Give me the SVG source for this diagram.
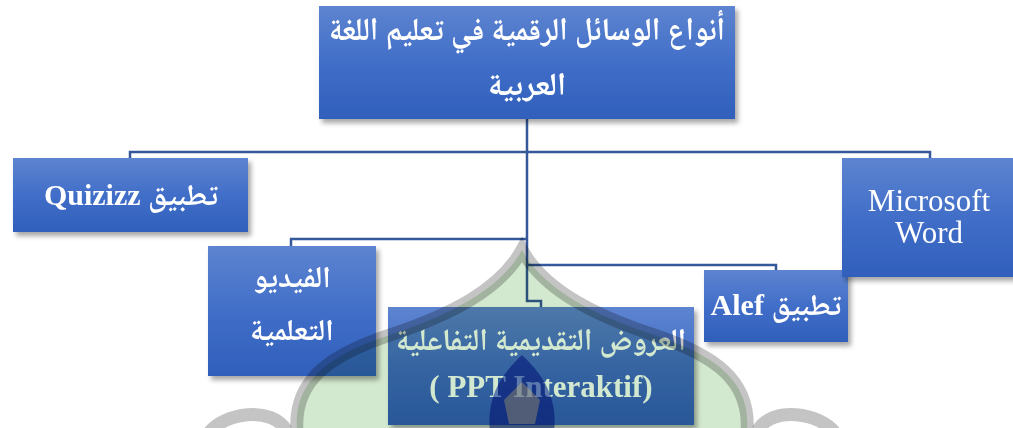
<svg xmlns="http://www.w3.org/2000/svg" width="1013" height="428" viewBox="0 0 1013 428">
<defs>
<linearGradient id="boxGrad" x1="0" y1="0" x2="0" y2="1">
<stop offset="0" stop-color="#5d84d0"/>
<stop offset="0.5" stop-color="#416ec8"/>
<stop offset="1" stop-color="#2f5fbb"/>
</linearGradient>
<filter id="shadow" x="-10%" y="-10%" width="125%" height="130%">
<feDropShadow dx="3" dy="4" stdDeviation="2.5" flood-color="#000" flood-opacity="0.35"/>
</filter>
</defs>
<style>
.box{fill:url(#boxGrad);filter:url(#shadow);}
.conn{fill:none;stroke:#34589a;stroke-width:2.5;}
.t{fill:#ffffff;font-family:'Liberation Serif','Noto Naskh Arabic','DejaVu Sans',serif;font-weight:bold;text-anchor:middle;}
.ar{direction:rtl;}
.reg{font-weight:normal;}
.wm{mix-blend-mode:multiply;}
.wm-band{fill:none;stroke:#c4c4c4;stroke-width:13;mix-blend-mode:multiply;}
</style>
<rect width="1013" height="428" fill="#ffffff"/>
<g id="connectors">
<path class="conn" d="M527 119 V301 H541 V307"/>
<path class="conn" d="M527 152 H130 V158"/>
<path class="conn" d="M527 152 H930 V158"/>
<path class="conn" d="M527 239 H291 V246"/>
<path class="conn" d="M527 265 H776 V270"/>
</g>
<g id="node-root">
<rect class="box" x="319" y="6" width="416" height="113"/>
<text class="t ar" x="527" y="40" font-size="32" textLength="396" lengthAdjust="spacingAndGlyphs">أنواع الوسائل الرقمية في تعليم اللغة</text>
<text class="t ar" x="527" y="95" font-size="32">العربية</text>
</g>
<g id="node-quizizz">
<rect class="box" x="13" y="158" width="235" height="74"/>
<text class="t ar" x="131" y="205" font-size="30">تطبيق Quizizz</text>
</g>
<g id="node-video">
<rect class="box" x="208" y="246" width="168" height="130"/>
<text class="t ar" x="292" y="287" font-size="30">الفيديو</text>
<text class="t ar" x="292" y="340" font-size="30">التعلمية</text>
</g>
<g id="node-ppt">
<rect class="box" x="388" y="307" width="306" height="118"/>
<text class="t ar" x="541" y="350" font-size="31" textLength="290" lengthAdjust="spacingAndGlyphs">العروض التقديمية التفاعلية</text>
<text class="t" x="541" y="397" font-size="31">( PPT Interaktif)</text>
</g>
<g id="node-alef">
<rect class="box" x="704" y="270" width="144" height="72"/>
<text class="t ar" x="776" y="315" font-size="30">تطبيق Alef</text>
</g>
<g id="node-word">
<rect class="box" x="842" y="158" width="176" height="119"/>
<text class="t reg" x="929" y="211" font-size="31">Microsoft</text>
<text class="t reg" x="929" y="243" font-size="31">Word</text>
</g>
<g id="watermark">
<path class="wm" d="M297 430 C 293 380, 330 355, 390 335 C 450 315, 500 290, 522 250 C 544 290, 594 315, 654 335 C 714 355, 751 380, 747 430 Z" fill="#d3e9cf"/>
<path class="wm-band" d="M297 432 C 293 380, 330 355, 390 335 C 450 315, 500 290, 522 250 C 544 290, 594 315, 654 335 C 714 355, 751 380, 747 432"/>
<path class="wm-band" d="M208 434 C 224 412, 272 406, 286 430"/>
<path class="wm-band" d="M836 434 C 820 412, 772 406, 758 430"/>
<path class="wm" d="M522 355 C 542 374, 558 396, 554 432 L 490 432 C 486 396, 502 374, 522 355 Z" fill="#6f86d6"/>
<path d="M522 382 L 540 400 L 535 424 L 509 424 L 504 400 Z" fill="#e0c860" fill-opacity="0.3"/>
</g>
</svg>
